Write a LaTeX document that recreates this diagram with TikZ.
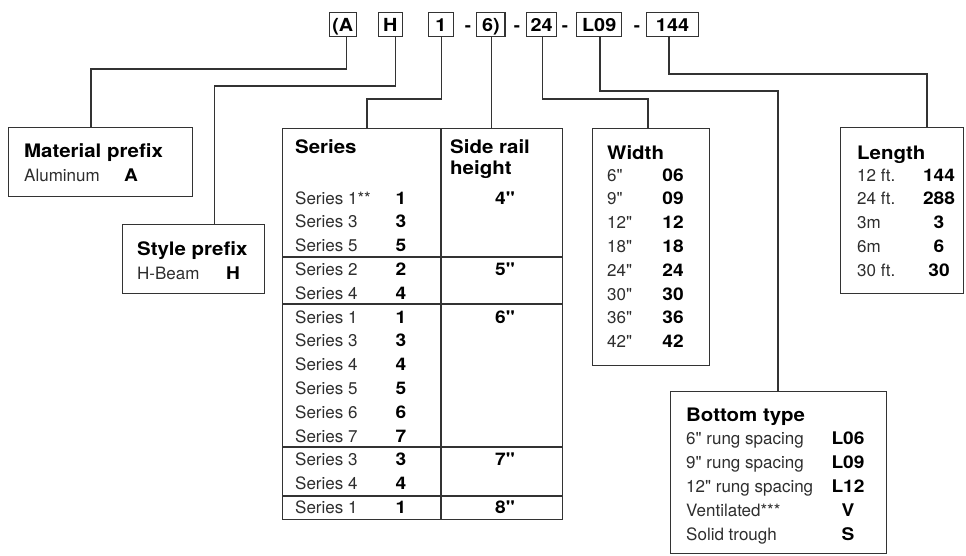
\documentclass[tikz,border=0pt]{standalone}
\usepackage{fontspec}
\setmainfont{TeX Gyre Heros}[Ligatures=TeXOff, BoldFeatures={FakeStretch=1.1}]
\begin{document}
\begin{tikzpicture}[x=1pt,y=-1pt,
  ln/.style={line width=1.1pt, draw=black!80},
  box/.style={ln, anchor=north west, inner sep=0pt},
  codebox/.style={ln, inner sep=0pt, minimum height=24pt, text height=18.5pt, text depth=5.5pt,
    font=\bfseries\fontsize{18}{20}\selectfont},
  sep/.style={inner sep=0pt, anchor=base, font=\bfseries\fontsize{17}{20}\selectfont},
  reg/.style={anchor=base west, inner sep=0pt, font=\fontsize{17}{20}\selectfont, text=black!82},
  hd/.style={anchor=base west, inner sep=0pt, font=\bfseries\fontsize{18.6}{22}\selectfont},
  cd/.style={anchor=base, inner sep=0pt, font=\bfseries\fontsize{17.4}{20}\selectfont},
]
\path[use as bounding box] (0,0) rectangle (966,555);

% top code boxes
\node[codebox, minimum width=26.7pt] (tA) at (342.7,24.7) {(A};
\node[codebox, minimum width=24pt] (tH) at (390.3,24.7) {H};
\node[codebox, minimum width=25pt] (t1) at (440.8,24.7) {1};
\node[sep] (d1) at (468,31.2) {-};
\node[codebox, minimum width=28.3pt] (t6) at (490.8,24.7) {6)};
\node[sep] (d2) at (517,31.2) {-};
\node[codebox, minimum width=30pt] (t24) at (541.7,24.7) {24};
\node[sep] (d3) at (565,31.2) {-};
\node[codebox, minimum width=45pt] (t9) at (599.2,24.7) {L09};
\node[sep] (d4) at (637,31.2) {-};
\node[codebox, minimum width=51.6pt] (t144) at (672.5,24.7) {144};

% boxes
\node[box, minimum width=184pt, minimum height=69pt] (mat) at (8,127) {};
\node[box, minimum width=142pt, minimum height=69pt] (sty) at (122,224) {};
\node[box, minimum width=280pt, minimum height=391pt] (ser) at (282,128) {};
\node[box, minimum width=117pt, minimum height=237pt] (wid) at (592,128) {};
\node[box, minimum width=123pt, minimum height=166pt] (len) at (840,127) {};
\node[box, minimum width=216pt, minimum height=162pt] (bot) at (670,391) {};

% series table inner lines
\draw[ln] (441,128) -- (441,519);
\foreach \yy in {257,304,447,496} \draw[ln] (282,\yy) -- (562,\yy);

% connectors
\coordinate (eA) at (91,69);
\coordinate (eH) at (214.5,86);
\coordinate (e1) at (367,99);
\coordinate (e24) at (648,99);
\coordinate (e9) at (778,91);
\coordinate (e144) at (927,74);
\draw[ln] ([xshift=4pt]tA.south) |- (eA) -- (mat.north -| eA);
\draw[ln] ([xshift=5.4pt]tH.south) |- (eH) -- (sty.north -| eH);
\draw[ln] ([xshift=1pt]t1.south) |- (e1) -- (ser.north -| e1);
\draw[ln] ([xshift=1pt]t6.south) -- ([xshift=1pt]t6.south |- ser.north);
\draw[ln] ([xshift=0.6pt]t24.south) |- (e24) -- (wid.north -| e24);
\draw[ln] ([xshift=0.8pt]t9.south) |- (e9) -- (bot.north -| e9);
\draw[ln] ([xshift=-3.5pt]t144.south) |- (e144) -- (len.north -| e144);

% material
\node[hd] (matH) at (24,157) {Material prefix};
\node[reg] (matR) at (24,181) {Aluminum};
\node[cd] (matC) at (131,181) {A};
% style
\node[hd] (styH) at (137,255) {Style prefix};
\node[reg] (styR) at (137,279) {H-Beam};
\node[cd] (styC) at (233,279) {H};

% series
\node[hd] (serH) at (295,153) {Series};
\node[hd] (srh1) at (450,153) {Side rail};
\node[hd] (srh2) at (450,174) {height};
\foreach \t/\c [count=\i from 0] in {Series 1**/1, Series 3/3, Series 5/5, Series 2/2, Series 4/4,
  Series 1/1, Series 3/3, Series 4/4, Series 5/5, Series 6/6, Series 7/7, Series 3/3, Series 4/4, Series 1/1}{
  \node[reg] (sn\i) at (295,{204+23.8*\i}) {\t};
  \node[cd] (sc\i) at (401,{204+23.8*\i}) {\c};
}
\node[cd] (hA) at (505,204) {4"};
\node[cd] (hB) at (505,{204+23.8*3}) {5"};
\node[cd] (hC) at (505,{204+23.8*5}) {6"};
\node[cd] (hD) at (505,{204+23.8*11}) {7"};
\node[cd] (hE) at (505,{204+23.8*13}) {8"};

% width
\node[hd] (widH) at (607,159) {Width};
\foreach \t/\c [count=\i from 0] in {6"/06, 9"/09, 12"/12, 18"/18, 24"/24, 30"/30, 36"/36, 42"/42}{
  \node[reg] (wn\i) at (607,{181+23.8*\i}) {\t};
  \node[cd] (wc\i) at (673,{181+23.8*\i}) {\c};
}

% length
\node[hd] (lenH) at (857,159) {Length};
\foreach \t/\c [count=\i from 0] in {12 ft./144, 24 ft./288, 3m/3, 6m/6, 30 ft./30}{
  \node[reg] (ln\i) at (857,{181+23.9*\i}) {\t};
  \node[cd] (lc\i) at (939,{181+23.9*\i}) {\c};
}

% bottom type
\node[hd] (botH) at (686,421) {Bottom type};
\foreach \t/\c [count=\i from 0] in {6" rung spacing/L06, 9" rung spacing/L09, 12" rung spacing/L12, Ventilated***/V, Solid trough/S}{
  \node[reg] (bn\i) at (686,{444+24*\i}) {\t};
  \node[cd] (bc\i) at (848,{444+24*\i}) {\c};
}
\end{tikzpicture}
\end{document}
